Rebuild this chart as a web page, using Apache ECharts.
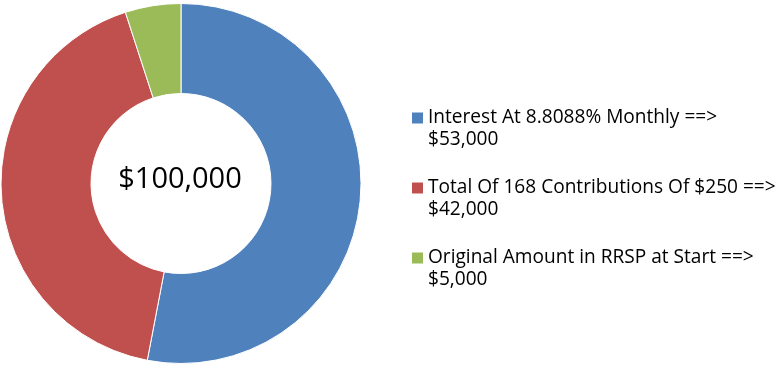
<!DOCTYPE html>
<html>
<head>
<meta charset="utf-8">
<script src="https://cdn.jsdelivr.net/npm/echarts@6/dist/echarts.min.js"></script>
<style>html,body{margin:0;padding:0;background:#fff}#c{width:775px;height:367px}</style>
</head>
<body>
<div id="c"></div>
<script>
const categories = [
  "Interest At 8.8088% Monthly ==>",
  "Total Of 168 Contributions Of $250 ==>",
  "Original Amount in RRSP at Start ==>"
];
const values = [53000, 42000, 5000];
const colors = ["#4F81BD", "#C0504D", "#9BBB59"];
const totalLabel = "$100,000";

function fmt(v) { return "$" + v.toLocaleString("en-US"); }

const chart = echarts.init(document.getElementById("c"), null, {renderer: "canvas"});
const FONT = "'Open Sans', sans-serif";
chart.setOption({
  animation: false,
  color: colors,
  title: {
    text: totalLabel,
    left: 175, top: 175,
    textAlign: "center", textVerticalAlign: "middle",
    textStyle: {fontFamily: FONT, fontSize: 29, fontWeight: "normal", color: "#000"}
  },
  legend: {
    orient: "vertical",
    left: 412, top: 85,
    padding: 0,
    itemWidth: 11, itemHeight: 11,
    itemGap: 4,
    icon: "rect",
    selectedMode: false,
    itemStyle: {borderWidth: 0},
    formatter: function (name) {
      const i = categories.indexOf(name);
      return "\n" + name + "\n" + fmt(values[i]);
    },
    textStyle: {fontFamily: FONT, fontSize: 19.1, color: "#000", lineHeight: 22}
  },
  series: [{
    type: "pie",
    center: [181, 183.5],
    radius: [90, 180],
    startAngle: 90,
    clockwise: true,
    label: {show: false},
    labelLine: {show: false},
    silent: true,
    itemStyle: {borderColor: "#fff", borderWidth: 1},
    data: categories.map((c, i) => ({name: c, value: values[i]}))
  }]
});
</script>
</body>
</html>
